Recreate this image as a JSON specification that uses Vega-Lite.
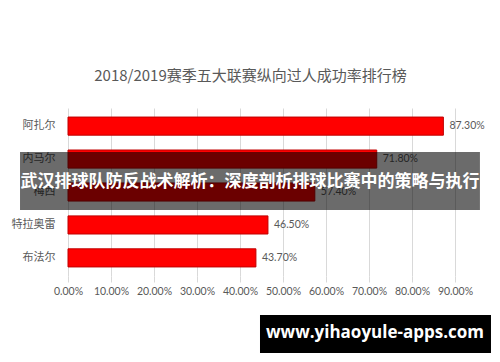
{
  "$schema": "https://vega.github.io/schema/vega-lite/v6.json",
  "width": 387,
  "height": 168,
  "autosize": {"type": "none"},
  "padding": {"left": 68, "top": 108, "right": 45, "bottom": 86},
  "background": "white",
  "config": {"view": {"stroke": null}, "font": "Noto Sans CJK SC"},
  "title": {
    "text": "2018/2019赛季五大联赛纵向过人成功率排行榜",
    "fontSize": 15,
    "fontWeight": "normal",
    "color": "#595959",
    "font": "Noto Sans CJK SC",
    "anchor": "middle",
    "dx": -11,
    "offset": 24
  },
  "data": {
    "values": [
      {"player": "阿扎尔", "rate": 0.873},
      {"player": "内马尔", "rate": 0.718},
      {"player": "梅西", "rate": 0.574},
      {"player": "特拉奥雷", "rate": 0.465},
      {"player": "布法尔", "rate": 0.437}
    ]
  },
  "layer": [
    {
      "mark": {"type": "bar", "color": "#ff0000", "stroke": "#c00000", "strokeWidth": 1},
      "encoding": {
        "x": {
          "field": "rate",
          "type": "quantitative",
          "scale": {"domain": [0, 0.9], "nice": false},
          "axis": {
            "title": null,
            "format": ".2%",
            "values": [0, 0.1, 0.2, 0.3, 0.4, 0.5, 0.6, 0.7, 0.8, 0.9],
            "labelOverlap": false,
            "labelFlush": false,
            "labelFont": "Lato",
            "labelFontSize": 10.5,
            "labelColor": "#595959",
            "gridColor": "#d9d9d9",
            "domain": false,
            "tickColor": "#d9d9d9",
            "tickSize": 6,
            "labelPadding": 4
          }
        },
        "y": {
          "field": "player",
          "type": "nominal",
          "sort": ["阿扎尔", "内马尔", "梅西", "特拉奥雷", "布法尔"],
          "scale": {"paddingInner": 0.45, "paddingOuter": 0.275},
          "axis": {
            "title": null,
            "domain": false,
            "ticks": false,
            "grid": false,
            "labelPadding": 13,
            "labelFontSize": 11,
            "labelColor": "#595959",
            "labelFont": "Noto Sans CJK SC"
          }
        }
      }
    },
    {
      "mark": {"type": "text", "align": "left", "baseline": "middle", "dx": 6, "fontSize": 10.5, "color": "#595959", "font": "Lato"},
      "encoding": {
        "x": {"field": "rate", "type": "quantitative"},
        "y": {"field": "player", "type": "nominal", "sort": ["阿扎尔", "内马尔", "梅西", "特拉奥雷", "布法尔"]},
        "text": {"field": "rate", "type": "quantitative", "format": ".2%"}
      }
    },
    {
      "data": {"values": [{"t": "武汉排球队防反战术解析：深度剖析排球比赛中的策略与执行"}]},
      "layer": [
        {
          "mark": {"type": "rect", "color": "#000000", "opacity": 0.58},
          "encoding": {
            "x": {"datum": -0.1116, "type": "quantitative"},
            "x2": {"datum": 0.958},
            "y": {"datum": "内马尔", "type": "nominal", "bandPosition": 0.11},
            "y2": {"datum": "梅西", "bandPosition": 1.49}
          }
        },
        {
          "mark": {"type": "text", "align": "center", "baseline": "middle", "fontSize": 17, "fontWeight": "bold", "color": "#ffffff", "font": "Noto Sans CJK SC"},
          "encoding": {
            "x": {"datum": 0.4233, "type": "quantitative"},
            "y": {"datum": "内马尔", "type": "nominal", "bandPosition": 1.77},
            "text": {"field": "t", "type": "nominal"}
          }
        }
      ]
    },
    {
      "data": {"values": [{"t": "www.yihaoyule-apps.com"}]},
      "layer": [
        {
          "mark": {"type": "rect", "color": "#000000", "opacity": 1},
          "encoding": {
            "x": {"datum": 0.4465, "type": "quantitative"},
            "x2": {"datum": 0.9837},
            "y": {"datum": "布法尔", "type": "nominal", "bandPosition": 3.65},
            "y2": {"datum": "布法尔", "bandPosition": 5.75}
          }
        },
        {
          "mark": {"type": "text", "align": "center", "baseline": "middle", "fontSize": 17, "fontWeight": "bold", "color": "#ffffff", "font": "Open Sans"},
          "encoding": {
            "x": {"datum": 0.714, "type": "quantitative"},
            "y": {"datum": "布法尔", "type": "nominal", "bandPosition": 4.65},
            "text": {"field": "t", "type": "nominal"}
          }
        }
      ]
    }
  ]
}
